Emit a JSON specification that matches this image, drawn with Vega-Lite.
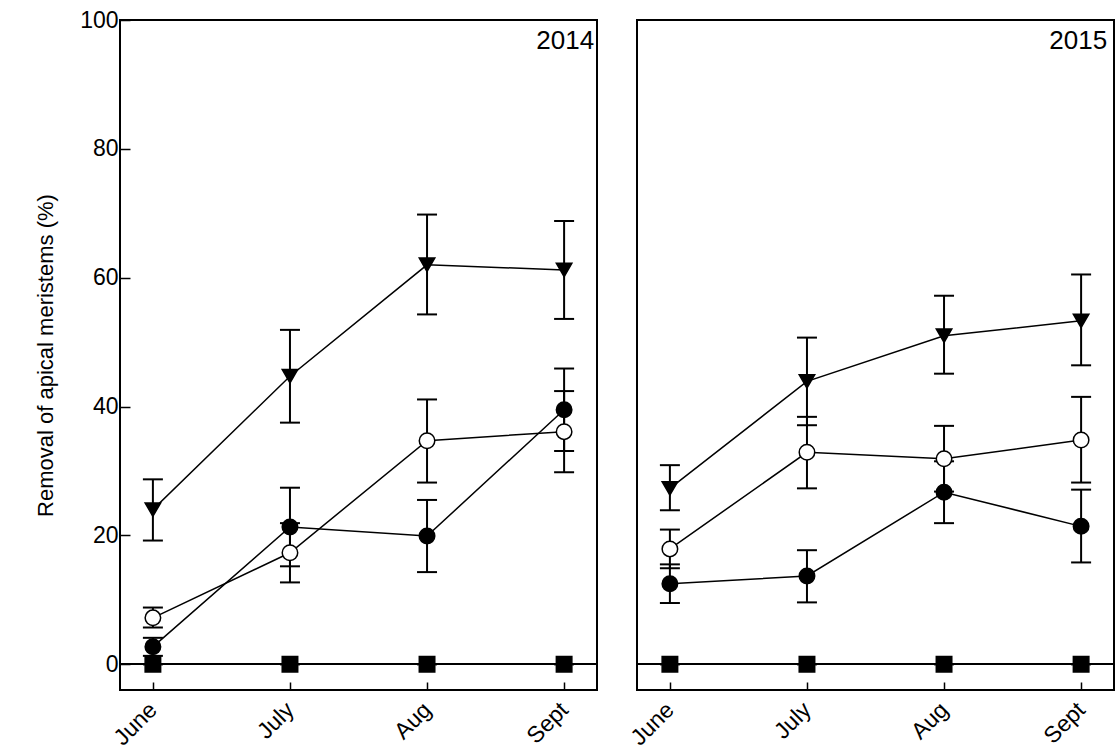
{
  "$schema": "https://vega.github.io/schema/vega-lite/v6.json",
  "padding": {"left": 33, "top": 8, "right": 0, "bottom": 0},
  "background": "white",
  "config": {
    "font": "Liberation Sans",
    "view": {"stroke": "black", "strokeWidth": 2},
    "axis": {"domain": false, "grid": false, "tickColor": "black", "tickWidth": 1.5, "labelColor": "black", "labelFont": "Liberation Sans", "titleFont": "Liberation Sans", "labelFontSize": 23, "titleFontSize": 22, "titleFontWeight": "normal", "titleColor": "black"}
  },
  "data": {
    "values": [
      {"year": 2014, "month": "June", "treatment": "None", "mean": 0, "lo": 0, "hi": 0},
      {"year": 2014, "month": "July", "treatment": "None", "mean": 0, "lo": 0, "hi": 0},
      {"year": 2014, "month": "Aug", "treatment": "None", "mean": 0, "lo": 0, "hi": 0},
      {"year": 2014, "month": "Sept", "treatment": "None", "mean": 0, "lo": 0, "hi": 0},
      {"year": 2014, "month": "June", "treatment": "D", "mean": 2.7, "lo": 1.3, "hi": 4.1},
      {"year": 2014, "month": "July", "treatment": "D", "mean": 21.3, "lo": 15.2, "hi": 27.4},
      {"year": 2014, "month": "Aug", "treatment": "D", "mean": 19.9, "lo": 14.3, "hi": 25.5},
      {"year": 2014, "month": "Sept", "treatment": "D", "mean": 39.5, "lo": 33.1, "hi": 45.9},
      {"year": 2014, "month": "June", "treatment": "D + E", "mean": 7.2, "lo": 5.7, "hi": 8.8},
      {"year": 2014, "month": "July", "treatment": "D + E", "mean": 17.3, "lo": 12.7, "hi": 21.9},
      {"year": 2014, "month": "Aug", "treatment": "D + E", "mean": 34.7, "lo": 28.2, "hi": 41.1},
      {"year": 2014, "month": "Sept", "treatment": "D + E", "mean": 36.1, "lo": 29.8, "hi": 42.4},
      {"year": 2014, "month": "June", "treatment": "C + D + E", "mean": 24.0, "lo": 19.2, "hi": 28.7},
      {"year": 2014, "month": "July", "treatment": "C + D + E", "mean": 44.7, "lo": 37.5, "hi": 51.9},
      {"year": 2014, "month": "Aug", "treatment": "C + D + E", "mean": 62.0, "lo": 54.3, "hi": 69.8},
      {"year": 2014, "month": "Sept", "treatment": "C + D + E", "mean": 61.2, "lo": 53.6, "hi": 68.8},
      {"year": 2015, "month": "June", "treatment": "None", "mean": 0, "lo": 0, "hi": 0},
      {"year": 2015, "month": "July", "treatment": "None", "mean": 0, "lo": 0, "hi": 0},
      {"year": 2015, "month": "Aug", "treatment": "None", "mean": 0, "lo": 0, "hi": 0},
      {"year": 2015, "month": "Sept", "treatment": "None", "mean": 0, "lo": 0, "hi": 0},
      {"year": 2015, "month": "June", "treatment": "D", "mean": 12.5, "lo": 9.5, "hi": 15.5},
      {"year": 2015, "month": "July", "treatment": "D", "mean": 13.7, "lo": 9.6, "hi": 17.7},
      {"year": 2015, "month": "Aug", "treatment": "D", "mean": 26.7, "lo": 21.9, "hi": 31.5},
      {"year": 2015, "month": "Sept", "treatment": "D", "mean": 21.4, "lo": 15.8, "hi": 27.1},
      {"year": 2015, "month": "June", "treatment": "D + E", "mean": 17.9, "lo": 14.9, "hi": 20.9},
      {"year": 2015, "month": "July", "treatment": "D + E", "mean": 32.9, "lo": 27.3, "hi": 38.4},
      {"year": 2015, "month": "Aug", "treatment": "D + E", "mean": 31.9, "lo": 26.8, "hi": 37.0},
      {"year": 2015, "month": "Sept", "treatment": "D + E", "mean": 34.8, "lo": 28.2, "hi": 41.5},
      {"year": 2015, "month": "June", "treatment": "C + D + E", "mean": 27.3, "lo": 23.9, "hi": 30.9},
      {"year": 2015, "month": "July", "treatment": "C + D + E", "mean": 43.9, "lo": 37.1, "hi": 50.7},
      {"year": 2015, "month": "Aug", "treatment": "C + D + E", "mean": 51.0, "lo": 45.1, "hi": 57.2},
      {"year": 2015, "month": "Sept", "treatment": "C + D + E", "mean": 53.3, "lo": 46.4, "hi": 60.5}
    ]
  },
  "spacing": 26,
  "hconcat": [
    {
      "width": 477, "height": 670,
      "transform": [{"filter": "datum.year == 2014"}],
      "layer": [
        {
          "mark": {"type": "rule", "color": "black", "strokeWidth": 1.5},
          "encoding": {"y": {"datum": 0, "type": "quantitative", "axis": {"title": "Removal of apical meristems (%)", "values": [0, 20, 40, 60, 80, 100], "tickSize": -10, "labelPadding": 12, "titlePadding": 22}}}
        },
        {
          "mark": {"type": "rule", "color": "black", "strokeWidth": 2},
          "encoding": {
            "x": {"field": "month", "type": "ordinal", "scale": {"type": "point", "domain": ["June", "July", "Aug", "Sept"], "padding": 0.24}, "axis": {"title": null, "labelAngle": -45, "labelAlign": "right", "labelBaseline": "middle", "tickSize": -8, "labelPadding": 24}},
            "y": {"field": "lo", "type": "quantitative", "axis": {"title": "Removal of apical meristems (%)", "values": [0, 20, 40, 60, 80, 100], "tickSize": -10, "labelPadding": 12, "titlePadding": 22}},
            "y2": {"field": "hi"}
          }
        },
        {
          "mark": {"type": "tick", "color": "black", "size": 20, "thickness": 2, "opacity": 1},
          "encoding": {
            "x": {"field": "month", "type": "ordinal", "axis": {"title": null, "labelAngle": -45, "labelAlign": "right", "labelBaseline": "middle", "tickSize": -8, "labelPadding": 24}},
            "y": {"field": "hi", "type": "quantitative", "axis": {"title": "Removal of apical meristems (%)", "values": [0, 20, 40, 60, 80, 100], "tickSize": -10, "labelPadding": 12, "titlePadding": 22}}
          }
        },
        {
          "mark": {"type": "tick", "color": "black", "size": 20, "thickness": 2, "opacity": 1},
          "encoding": {
            "x": {"field": "month", "type": "ordinal", "axis": {"title": null, "labelAngle": -45, "labelAlign": "right", "labelBaseline": "middle", "tickSize": -8, "labelPadding": 24}},
            "y": {"field": "lo", "type": "quantitative", "axis": {"title": "Removal of apical meristems (%)", "values": [0, 20, 40, 60, 80, 100], "tickSize": -10, "labelPadding": 12, "titlePadding": 22}}
          }
        },
        {
          "mark": {"type": "line", "color": "black", "strokeWidth": 1.5},
          "encoding": {
            "x": {"field": "month", "type": "ordinal", "axis": {"title": null, "labelAngle": -45, "labelAlign": "right", "labelBaseline": "middle", "tickSize": -8, "labelPadding": 24}},
            "y": {"field": "mean", "type": "quantitative", "axis": {"title": "Removal of apical meristems (%)", "values": [0, 20, 40, 60, 80, 100], "tickSize": -10, "labelPadding": 12, "titlePadding": 22}},
            "detail": {"field": "treatment", "type": "nominal"}
          }
        },
        {
          "mark": {"type": "point", "filled": true, "opacity": 1, "strokeWidth": 1.5, "size": 240},
          "encoding": {
            "x": {"field": "month", "type": "ordinal", "axis": {"title": null, "labelAngle": -45, "labelAlign": "right", "labelBaseline": "middle", "tickSize": -8, "labelPadding": 24}},
            "y": {"field": "mean", "type": "quantitative", "scale": {"domain": [-4, 100], "nice": false, "zero": false}, "axis": {"title": "Removal of apical meristems (%)", "values": [0, 20, 40, 60, 80, 100], "tickSize": -10, "labelPadding": 12, "titlePadding": 22}},
            "shape": {"field": "treatment", "type": "nominal", "scale": {"domain": ["None", "D", "D + E", "C + D + E"], "range": ["square", "circle", "circle", "triangle-down"]}, "legend": null},
            "fill": {"field": "treatment", "type": "nominal", "scale": {"domain": ["None", "D", "D + E", "C + D + E"], "range": ["black", "black", "white", "black"]}, "legend": null},
            "stroke": {"field": "treatment", "type": "nominal", "scale": {"domain": ["None", "D", "D + E", "C + D + E"], "range": ["black", "black", "black", "black"]},
              "legend": {"title": null, "orient": "none", "legendX": 37, "legendY": 11, "labelFontSize": 24, "labelColor": "black", "labelFont": "Liberation Sans", "symbolSize": 240, "symbolStrokeWidth": 1.5, "labelOffset": 33, "rowPadding": 5, "padding": 0,
                "encode": {"symbols": {
                  "shape": {"value": {"expr": "datum.value === 'None' ? 'M-3.94,0H3.94M-1,-1H1V1H-1Z' : (datum.value === 'C + D + E' ? 'M-3.94,0H3.94M-1.05,-0.85H1.05L0,0.95Z' : 'M-3.94,0H-1.1M1.1,0H3.94M-1.1,0A1.1,1.1,0,1,0,1.1,0A1.1,1.1,0,1,0,-1.1,0Z')"}},
                  "fill": {"value": {"expr": "datum.value === 'D + E' ? 'white' : 'black'"}}
                }}}}
          }
        },
        {
          "data": {"values": [{"label": "2014"}]},
          "mark": {"type": "text", "align": "right", "baseline": "top", "fontSize": 26, "dx": 30, "dy": 8, "color": "black"},
          "encoding": {"x": {"datum": "Sept", "type": "ordinal", "axis": {"title": null, "labelAngle": -45, "labelAlign": "right", "labelBaseline": "middle", "tickSize": -8, "labelPadding": 24}}, "y": {"datum": 100, "type": "quantitative", "axis": {"title": "Removal of apical meristems (%)", "values": [0, 20, 40, 60, 80, 100], "tickSize": -10, "labelPadding": 12, "titlePadding": 22}}, "text": {"field": "label", "type": "nominal"}}
        }
      ]
    },
    {
      "width": 477, "height": 670,
      "transform": [{"filter": "datum.year == 2015"}],
      "layer": [
        {
          "mark": {"type": "rule", "color": "black", "strokeWidth": 1.5},
          "encoding": {"y": {"datum": 0, "type": "quantitative", "axis": {"orient": "right", "labels": false, "ticks": false, "title": null, "domain": false, "minExtent": 0, "maxExtent": 0}}}
        },
        {
          "mark": {"type": "rule", "color": "black", "strokeWidth": 2},
          "encoding": {
            "x": {"field": "month", "type": "ordinal", "scale": {"type": "point", "domain": ["June", "July", "Aug", "Sept"], "padding": 0.24}, "axis": {"title": null, "labelAngle": -45, "labelAlign": "right", "labelBaseline": "middle", "tickSize": -8, "labelPadding": 24}},
            "y": {"field": "lo", "type": "quantitative", "axis": {"orient": "right", "labels": false, "ticks": false, "title": null, "domain": false, "minExtent": 0, "maxExtent": 0}},
            "y2": {"field": "hi"}
          }
        },
        {
          "mark": {"type": "tick", "color": "black", "size": 20, "thickness": 2, "opacity": 1},
          "encoding": {
            "x": {"field": "month", "type": "ordinal", "axis": {"title": null, "labelAngle": -45, "labelAlign": "right", "labelBaseline": "middle", "tickSize": -8, "labelPadding": 24}},
            "y": {"field": "hi", "type": "quantitative", "axis": {"orient": "right", "labels": false, "ticks": false, "title": null, "domain": false, "minExtent": 0, "maxExtent": 0}}
          }
        },
        {
          "mark": {"type": "tick", "color": "black", "size": 20, "thickness": 2, "opacity": 1},
          "encoding": {
            "x": {"field": "month", "type": "ordinal", "axis": {"title": null, "labelAngle": -45, "labelAlign": "right", "labelBaseline": "middle", "tickSize": -8, "labelPadding": 24}},
            "y": {"field": "lo", "type": "quantitative", "axis": {"orient": "right", "labels": false, "ticks": false, "title": null, "domain": false, "minExtent": 0, "maxExtent": 0}}
          }
        },
        {
          "mark": {"type": "line", "color": "black", "strokeWidth": 1.5},
          "encoding": {
            "x": {"field": "month", "type": "ordinal", "axis": {"title": null, "labelAngle": -45, "labelAlign": "right", "labelBaseline": "middle", "tickSize": -8, "labelPadding": 24}},
            "y": {"field": "mean", "type": "quantitative", "axis": {"orient": "right", "labels": false, "ticks": false, "title": null, "domain": false, "minExtent": 0, "maxExtent": 0}},
            "detail": {"field": "treatment", "type": "nominal"}
          }
        },
        {
          "mark": {"type": "point", "filled": true, "opacity": 1, "stroke": "black", "strokeWidth": 1.5, "size": 240},
          "encoding": {
            "x": {"field": "month", "type": "ordinal", "axis": {"title": null, "labelAngle": -45, "labelAlign": "right", "labelBaseline": "middle", "tickSize": -8, "labelPadding": 24}},
            "y": {"field": "mean", "type": "quantitative", "scale": {"domain": [-4, 100], "nice": false, "zero": false}, "axis": {"orient": "right", "labels": false, "ticks": false, "title": null, "domain": false, "minExtent": 0, "maxExtent": 0}},
            "shape": {"field": "treatment", "type": "nominal", "scale": {"domain": ["None", "D", "D + E", "C + D + E"], "range": ["square", "circle", "circle", "triangle-down"]}, "legend": null},
            "fill": {"field": "treatment", "type": "nominal", "scale": {"domain": ["None", "D", "D + E", "C + D + E"], "range": ["black", "black", "white", "black"]}, "legend": null}
          }
        },
        {
          "data": {"values": [{"label": "2015"}]},
          "mark": {"type": "text", "align": "right", "baseline": "top", "fontSize": 26, "dx": 26, "dy": 8, "color": "black"},
          "encoding": {"x": {"datum": "Sept", "type": "ordinal", "axis": {"title": null, "labelAngle": -45, "labelAlign": "right", "labelBaseline": "middle", "tickSize": -8, "labelPadding": 24}}, "y": {"datum": 100, "type": "quantitative", "axis": {"orient": "right", "labels": false, "ticks": false, "title": null, "domain": false, "minExtent": 0, "maxExtent": 0}}, "text": {"field": "label", "type": "nominal"}}
        }
      ]
    }
  ]
}
